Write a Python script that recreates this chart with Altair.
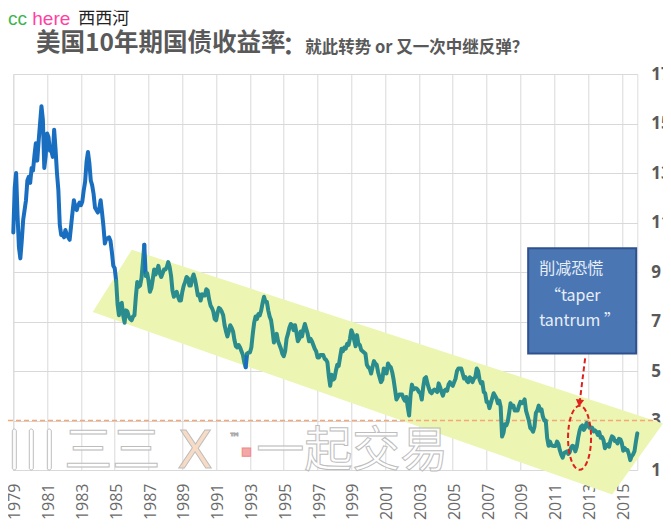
import altair as alt
import pandas as pd
import numpy as np

# ---------------- data ----------------
# Monthly 10-year yield, first point at axis position 1979.0, one point per month
yields = [
    10.60, 12.40, 13.00, 11.30, 10.00, 9.55, 10.25, 11.10, 11.50, 11.90, 12.70, 12.85,
    12.60, 13.20, 13.10, 13.70, 14.20, 13.50, 14.30, 15.00, 15.70, 15.15, 13.20, 13.70,
    14.60, 14.45, 13.90, 13.90, 13.65, 14.75, 13.95, 13.00, 12.30, 10.90, 10.50, 10.50,
    10.40, 10.70, 10.50, 10.40, 10.30, 10.85, 11.40, 11.90, 11.60, 11.50, 11.70, 11.80,
    11.70, 11.85, 12.30, 12.65, 13.45, 13.85, 13.40, 12.70, 12.50, 12.15, 11.60, 11.50,
    11.40, 11.55, 11.90, 11.40, 10.85, 10.15, 10.35, 10.35, 10.40, 10.25, 9.80, 9.25,
    9.15, 8.65, 7.70, 7.25, 7.70, 7.75, 7.25, 6.95, 7.45, 7.40, 7.20, 7.10,
    7.05, 7.20, 7.25, 8.00, 8.60, 8.40, 8.45, 8.75, 9.40, 10.10, 8.85, 8.95,
    8.65, 8.20, 8.35, 8.70, 9.10, 8.90, 9.05, 9.25, 8.95, 8.80, 8.95, 9.10,
    9.10, 9.20, 9.40, 9.20, 8.85, 8.25, 8.00, 8.10, 8.20, 8.00, 7.85, 7.85,
    8.20, 8.45, 8.60, 8.80, 8.75, 8.45, 8.45, 8.75, 8.90, 8.70, 8.40, 8.05,
    8.10, 7.85, 8.10, 8.05, 8.05, 8.30, 8.25, 7.90, 7.65, 7.55, 7.40, 7.10,
    7.05, 7.35, 7.55, 7.50, 7.40, 7.25, 6.85, 6.60, 6.40, 6.60, 6.85, 6.75,
    6.60, 6.25, 6.00, 5.95, 6.05, 5.95, 5.80, 5.65, 5.35, 5.15, 5.70, 5.75,
    5.75, 5.95, 6.50, 6.95, 7.20, 7.10, 7.30, 7.25, 7.45, 7.75, 8.00, 7.80,
    7.80, 7.45, 7.20, 7.05, 6.65, 6.15, 6.30, 6.50, 6.20, 6.05, 5.90, 5.70,
    5.60, 5.80, 6.30, 6.50, 6.75, 6.90, 6.85, 6.65, 6.85, 6.55, 6.20, 6.30,
    6.60, 6.40, 6.70, 6.90, 6.70, 6.50, 6.20, 6.30, 6.20, 6.05, 5.90, 5.80,
    5.55, 5.55, 5.65, 5.65, 5.65, 5.50, 5.45, 5.35, 4.80, 4.40, 4.85, 4.65,
    4.70, 5.00, 5.25, 5.20, 5.55, 5.90, 5.80, 5.95, 5.90, 6.10, 6.05, 6.30,
    6.65, 6.50, 6.25, 6.00, 6.45, 6.10, 6.05, 5.85, 5.80, 5.75, 5.70, 5.25,
    5.15, 5.10, 4.90, 5.15, 5.40, 5.30, 5.25, 4.95, 4.75, 4.55, 4.65, 5.10,
    5.05, 4.90, 5.30, 5.20, 5.15, 4.95, 4.65, 4.25, 3.85, 3.95, 4.05, 4.05,
    4.05, 3.90, 3.80, 3.95, 3.55, 3.20, 4.00, 4.45, 4.25, 4.30, 4.30, 4.25,
    4.15, 4.10, 3.85, 4.35, 4.70, 4.75, 4.50, 4.30, 4.15, 4.10, 4.20, 4.25,
    4.20, 4.15, 4.50, 4.35, 4.15, 4.00, 4.20, 4.25, 4.20, 4.45, 4.55, 4.45,
    4.40, 4.55, 4.70, 5.00, 5.10, 5.10, 5.10, 4.90, 4.70, 4.75, 4.60, 4.55,
    4.75, 4.70, 4.55, 4.70, 4.75, 5.10, 5.00, 4.65, 4.50, 4.55, 4.15, 4.10,
    3.75, 3.75, 3.50, 3.70, 3.90, 4.10, 4.00, 3.90, 3.70, 3.80, 3.55, 2.35,
    2.50, 2.85, 2.80, 2.95, 3.30, 3.70, 3.55, 3.60, 3.40, 3.40, 3.40, 3.60,
    3.75, 3.70, 3.75, 3.85, 3.40, 3.20, 3.00, 2.70, 2.65, 2.55, 2.75, 3.30,
    3.40, 3.60, 3.40, 3.45, 3.15, 3.00, 3.00, 2.30, 1.98, 2.15, 2.00, 1.98,
    1.97, 1.97, 2.15, 2.05, 1.80, 1.62, 1.50, 1.68, 1.72, 1.75, 1.65, 1.72,
    1.90, 1.98, 1.95, 1.75, 1.93, 2.30, 2.58, 2.75, 2.80, 2.62, 2.72, 2.90,
    2.86, 2.71, 2.72, 2.71, 2.56, 2.60, 2.54, 2.42, 2.53, 2.30, 2.33, 2.21,
    1.88, 1.98, 2.04, 1.94, 2.20, 2.36, 2.32, 2.17, 2.17, 2.07, 2.26, 2.24,
    2.09, 1.78, 1.89, 1.81, 1.81, 1.64, 1.40, 1.56, 1.63, 1.76, 2.14, 2.48,
]
START = 1979.0
x_ticks = list(range(1979, 2016, 2))
y_ticks = list(range(1, 18, 2))

# Channel (parallelogram) corners: left, top-left, right, bottom-right
band_x = [1983.70, 1986.01, 2017.44, 2014.43]
band_y = [7.38, 9.90, 2.88, 0.01]

# Annotation anchors (data units)
ellipse_x, ellipse_y = [2012.50], [2.30]
arrow_x, arrow_y, arrow_x2, arrow_y2 = [2012.83], [5.51], [2012.50], [3.70]
box_x, box_x2, box_y, box_y2 = [2009.46], [2015.85], [9.96], [5.71]
box_lines = ["削减恐慌", "\u201ctaper", "tantrum \u201d"]
box_line_x = [2010.11, 2010.45, 2010.11]
box_line_y = [9.13, 8.02, 7.01]

title_main = "美国10年期国债收益率"
title_sub = "就此转势 or 又一次中继反弹？"

# ---------------- derived tables ----------------
n = len(yields)
t = START + np.arange(n) / 12.0
X_DOMAIN = [START, float(t[-1])]
Y_DOMAIN = [1, 17]

def inside_poly(px, py, vx, vy):
    res = False
    j = len(vx) - 1
    for i in range(len(vx)):
        if ((vy[i] > py) != (vy[j] > py)) and (
            px < (vx[j] - vx[i]) * (py - vy[i]) / (vy[j] - vy[i]) + vx[i]):
            res = not res
        j = i
    return res

ins = [inside_poly(t[i], yields[i], band_x, band_y) for i in range(n)]
rows = []
seg = 0
for i in range(n):
    if i > 0 and ins[i] != ins[i - 1]:
        rows.append(dict(t=t[i], v=yields[i], seg=seg, zone="in" if ins[i - 1] else "out", o=i))
        seg += 1
    rows.append(dict(t=t[i], v=yields[i], seg=seg, zone="in" if ins[i] else "out", o=i))
line_df = pd.DataFrame(rows)

# band as area: top edge A-B-C, bottom edge A-D-C
A, B, C, D = 0, 1, 2, 3
bx = sorted(band_x)
top = np.interp(bx, [band_x[A], band_x[B], band_x[C]], [band_y[A], band_y[B], band_y[C]])
bot = np.interp(bx, [band_x[A], band_x[D], band_x[C]], [band_y[A], band_y[D], band_y[C]])
band_df = pd.DataFrame({"t": bx, "top": top, "bot": bot})

xs = alt.Scale(domain=X_DOMAIN, nice=False, zero=False)
ys = alt.Scale(domain=Y_DOMAIN, nice=False, zero=False)

GRID = "#d9d9d9"
x_axis = alt.Axis(values=x_ticks, format="d", labelAngle=-90, grid=True, gridColor=GRID,
                  domain=False, ticks=False, tickSize=0, labelFont="Open Sans",
                  labelFontSize=16, labelColor="#6a6a6a", labelPadding=13, labelOffset=1.5,
                  title=None, labelFlush=False, labelOverlap=False)
y_axis = alt.Axis(values=y_ticks, orient="right", grid=True, gridColor=GRID,
                  domain=False, ticks=False, tickSize=0, labelFont="Open Sans",
                  labelFontWeight="bold", labelFontSize=17, labelColor="#595959",
                  labelPadding=13.5, title=None, labelFlush=False, labelOverlap=False)

def X(f):
    return alt.X(f, type="quantitative", scale=xs, axis=x_axis)

def Y(f):
    return alt.Y(f, type="quantitative", scale=ys, axis=y_axis)

band = alt.Chart(band_df).mark_area(color="#ecf6b2", opacity=1).encode(
    x=X("t"), y=Y("top"), y2="bot")

one = pd.DataFrame({"k": [0]})

def wm(text, x, y, size, font="Noto Sans CJK SC", fill="white", stroke="#bdbdbd"):
    return alt.Chart(one).mark_text(text=text, font=font, fontSize=size,
                                    fill=fill, fillOpacity=0.75, stroke=stroke, strokeWidth=1,
                                    align="left", baseline="middle").encode(
        x=alt.value(x), y=alt.value(y))

def wm_bar(x, x2, y, y2):
    return alt.Chart(one).mark_rect(fill="white", fillOpacity=0.75, stroke="#bdbdbd",
                                    strokeWidth=1, cornerRadius=2).encode(
        x=alt.value(x), x2=alt.value(x2), y=alt.value(y), y2=alt.value(y2))

watermark = [
    wm_bar(-1, 3, 355, 396),
    wm_bar(16, 20, 355, 396),
    wm_bar(34, 38, 355, 396),
    wm("三三", 51, 378, 48),
    wm("X", 164, 378, 52, font="DejaVu Sans", fill="#f6cfb0"),
    wm("™", 216, 364, 11, font="DejaVu Sans", fill="#aaaaaa", stroke="#aaaaaa"),
    wm("■", 228, 378, 11, font="DejaVu Sans", fill="#f08a8a", stroke="#f08a8a"),
    wm("一起交易", 243, 378, 48),
]

three_rule = alt.Chart(pd.DataFrame({"v": [3]})).mark_rule(
    color="#f4a878", strokeDash=[5, 3], strokeWidth=1.5).encode(
    y=Y("v"), x=alt.value(-5.3), x2=alt.value(642))

line = alt.Chart(line_df).mark_line(strokeWidth=4, strokeJoin="round", strokeCap="round").encode(
    x=X("t"), y=Y("v"), detail="seg:N", order="o:Q",
    color=alt.Color("zone:N", scale=alt.Scale(domain=["out", "in"], range=["#1a6ec0", "#2a8c8c"]),
                    legend=None))

RED = "#e0201c"
ellipse_path = "M -0.36 0 A 0.36 1 0 1 1 0.36 0 A 0.36 1 0 1 1 -0.36 0 Z"
ellipse = alt.Chart(pd.DataFrame({"t": ellipse_x, "v": ellipse_y})).mark_point(
    shape=ellipse_path, size=4096, filled=False, color=RED, strokeWidth=2,
    strokeDash=[5, 3], opacity=1).encode(x=X("t"), y=Y("v"))

arrow = alt.Chart(pd.DataFrame({"t": arrow_x, "v": arrow_y, "t2": arrow_x2, "v2": arrow_y2})).mark_rule(
    color=RED, strokeWidth=2, strokeDash=[5, 3]).encode(x=X("t"), y=Y("v"), x2="t2", y2="v2")
arrow_head = alt.Chart(pd.DataFrame({"t": arrow_x2, "v": arrow_y2})).mark_point(
    shape="triangle-down", size=70, filled=True, color=RED, opacity=1, angle=7).encode(
    x=X("t"), y=Y("v"))

box = alt.Chart(pd.DataFrame({"t": box_x, "t2": box_x2, "v": box_y, "v2": box_y2})).mark_rect(
    fill="#4a77b4", stroke="#2f528f", strokeWidth=2).encode(x=X("t"), x2="t2", y=Y("v"), y2="v2")
box_text = alt.Chart(pd.DataFrame({"t": box_line_x, "v": box_line_y, "s": box_lines})).mark_text(
    font="Noto Sans CJK SC", fontSize=16, color="#e8eef8", align="left", baseline="middle").encode(
    x=X("t"), y=Y("v"), text="s:N")

def txt(text, x, y, size, color, weight="normal", font="Noto Sans CJK SC"):
    return alt.Chart(one).mark_text(text=text, font=font, fontSize=size, fontWeight=weight,
                                    color=color, align="left", baseline="middle").encode(
        x=alt.value(x), y=alt.value(y))

titles = [
    txt(title_main, 22.7, -30, 24.5, "#595959", "bold"),
    txt("：", 269, -27, 24.5, "#595959", "bold"),
    txt(title_sub, 292, -26, 16.5, "#595959", "bold"),
    txt("cc", -5.3, -55, 19, "#3cb54a", font="Liberation Sans"),
    txt("here", 19, -55, 19, "#ff3fa4", font="Liberation Sans"),
    txt("西西河", 65, -55, 17, "#222222"),
]

chart = alt.layer(band, *watermark, three_rule, line, ellipse, arrow, arrow_head,
                  box, box_text, *titles).properties(
    width=624, height=396,
    autosize=alt.AutoSizeParams(type="none"),
    padding={"left": 5.3, "top": 66, "right": 25.7, "bottom": 62},
).configure_view(strokeWidth=0).configure(background="white")

chart.save("out.html", embed_options={"renderer": "svg", "actions": False})
